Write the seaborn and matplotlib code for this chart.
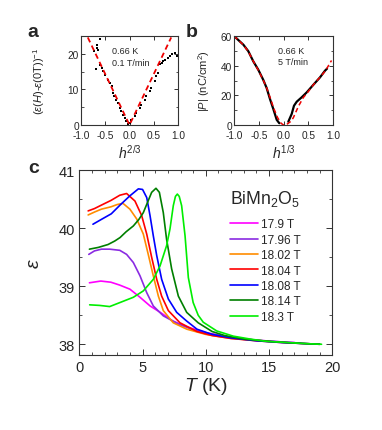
import numpy as np
import pandas as pd
import matplotlib
matplotlib.use("Agg")
import matplotlib.pyplot as plt
import seaborn as sns

# ---------------- data ----------------
# panel a: scattered data (h^{2/3}, (eps(H)-eps(0T))^-1) and dashed fit
a_x = [-0.73, -0.68, -0.66, -0.65, -0.615, -0.70, -0.615, -0.57, -0.55, -0.51, -0.44, -0.41,
       -0.37, -0.34, -0.31, -0.27, -0.24, -0.20, -0.17, -0.13, -0.10, -0.065, -0.03,
       0.003, 0.04, 0.107, 0.14, 0.21, 0.24, 0.31, 0.35, 0.42, 0.45, 0.52, 0.55, 0.59,
       0.62, 0.66, 0.69, 0.74, 0.79, 0.83, 0.88, 0.93, 0.97]
a_y = [20.7, 22.6, 21.6, 21.2, 24.2, 15.7, 16.9, 16.0, 15.1, 14.1, 12.7, 11.8,
       10.9, 9.0, 8.1, 7.1, 6.2, 4.8, 3.8, 2.9, 2.0, 1.0, 0.4,
       0.56, 1.3, 2.4, 3.4, 4.8, 5.7, 7.1, 8.1, 9.5, 10.4, 12.3, 13.7, 14.6,
       17.0, 17.4, 17.9, 18.2, 18.8, 19.3, 20.0, 20.2, 19.3]
a_fit_x = [-0.86, 0.0, 0.86]
a_fit_y = [24.6, 0.0, 24.6]

# panel b: |P| vs h^{1/3}
b_left_x = [-1.0, -0.81, -0.71, -0.61, -0.51, -0.41, -0.34, -0.273, -0.206, -0.137, -0.085]
b_left_y = [60.0, 54.1, 49.7, 42.9, 37.3, 30.5, 24.9, 17.5, 10.8, 3.5, 1.2]
b_right_x = [0.097, 0.165, 0.212, 0.267, 0.368, 0.469, 0.60, 0.737, 0.838, 0.88]
b_right_y = [2.2, 7.4, 13.0, 15.7, 18.7, 22.0, 27.0, 32.1, 36.6, 38.0]
b_fit_x = [-1.0, -0.81, -0.71, -0.61, -0.51, -0.41, -0.34, -0.27, -0.2, -0.12, -0.05, 0.0,
           0.05, 0.15, 0.2, 0.3, 0.4, 0.5, 0.6, 0.74, 0.85, 0.97]
b_fit_y = [60.0, 54.0, 49.5, 43.0, 37.0, 30.3, 25.0, 18.5, 11.5, 5.0, 1.2, 0.0,
           0.0, 2.5, 5.0, 12.5, 18.5, 22.5, 27.0, 32.3, 36.7, 43.5]

# panel c: epsilon vs T for several fields
fields = ["17.9 T", "17.96 T", "18.02 T", "18.04 T", "18.08 T", "18.14 T", "18.3 T"]
colors = ["#ff00ff", "#8a2be2", "#ff8c00", "#ff0000", "#0000ff", "#007f00", "#00ee00"]

T_179 = [0.8, 1.7, 2.5, 3.2, 4.0, 4.8, 5.6, 6.4, 7.4, 8.5, 10.0, 12.0, 14.0, 16.0, 17.0]
E_179 = [39.06, 39.09, 39.07, 39.02, 38.95, 38.81, 38.66, 38.55, 38.40, 38.30, 38.20, 38.12, 38.07, 38.04, 38.03]

T_1796 = [0.75, 1.2, 1.75, 2.4, 3.2, 3.74, 4.27, 4.8, 5.33, 5.85, 6.64, 7.83, 9.0, 10.0, 12.0, 14.0, 16.0, 17.5]
E_1796 = [39.55, 39.61, 39.64, 39.64, 39.62, 39.55, 39.41, 39.18, 38.89, 38.66, 38.49, 38.35, 38.25, 38.19, 38.12, 38.07, 38.04, 38.02]

T_1802 = [0.7, 1.2, 1.75, 2.5, 3.0, 3.45, 4.0, 4.54, 5.06, 5.45, 5.85, 6.25, 6.64, 7.43, 8.5, 10.0, 12.0, 15.0]
E_1802 = [40.23, 40.28, 40.33, 40.37, 40.41, 40.43, 40.33, 40.16, 39.90, 39.55, 39.18, 38.83, 38.58, 38.37, 38.26, 38.17, 38.10, 38.05]

T_1804 = [0.7, 1.2, 1.75, 2.5, 3.2, 3.74, 4.4, 4.93, 5.33, 5.72, 6.12, 6.51, 7.04, 7.96, 9.3, 10.5, 12.0, 14.0, 16.0, 19.0]
E_1804 = [40.30, 40.34, 40.40, 40.48, 40.57, 40.60, 40.47, 40.22, 39.90, 39.50, 39.12, 38.83, 38.58, 38.37, 38.22, 38.15, 38.10, 38.06, 38.03, 38.0]

T_1808 = [1.08, 1.8, 2.53, 3.22, 4.0, 4.67, 5.0, 5.33, 5.59, 5.85, 6.12, 6.51, 7.04, 7.7, 8.49, 9.3, 10.5, 12.0, 14.0, 16.0, 19.0]
E_1808 = [40.07, 40.16, 40.25, 40.40, 40.56, 40.68, 40.67, 40.53, 40.22, 39.87, 39.53, 39.12, 38.78, 38.55, 38.40, 38.26, 38.17, 38.11, 38.06, 38.03, 38.0]

T_1814 = [0.8, 1.5, 2.27, 2.8, 3.22, 3.7, 4.27, 4.7, 5.06, 5.4, 5.72, 6.06, 6.33, 6.64, 6.9, 7.3, 7.83, 8.49, 9.4, 10.5, 11.5, 13.0, 15.0, 17.0, 19.0]
E_1814 = [39.64, 39.67, 39.72, 39.78, 39.84, 39.94, 40.04, 40.15, 40.27, 40.45, 40.62, 40.69, 40.62, 40.27, 39.81, 39.30, 38.83, 38.55, 38.37, 38.22, 38.15, 38.09, 38.05, 38.02, 38.0]

T_183 = [0.82, 1.6, 2.4, 3.22, 4.27, 5.06, 5.85, 6.38, 6.9, 7.17, 7.43, 7.6, 7.75, 7.9, 8.09, 8.36, 8.62, 9.0, 9.4, 9.8, 10.86, 12.17, 13.5, 14.8, 16.5, 18.0, 19.15]
E_183 = [38.68, 38.67, 38.65, 38.72, 38.81, 38.92, 39.12, 39.35, 39.70, 39.99, 40.39, 40.55, 40.59, 40.55, 40.39, 39.87, 39.15, 38.72, 38.50, 38.38, 38.23, 38.14, 38.09, 38.05, 38.03, 38.01, 38.0]

c_T = [T_179, T_1796, T_1802, T_1804, T_1808, T_1814, T_183]
c_E = [E_179, E_1796, E_1802, E_1804, E_1808, E_1814, E_183]

# ---------------- style ----------------
sns.set_style("ticks")
plt.rcParams["font.family"] = ["Liberation Sans", "DejaVu Sans"]
plt.rcParams["mathtext.fontset"] = "custom"
plt.rcParams["mathtext.rm"] = "Liberation Sans"
plt.rcParams["mathtext.it"] = "Liberation Sans:italic"
plt.rcParams["mathtext.bf"] = "Liberation Sans:bold"
plt.rcParams["axes.linewidth"] = 0.8
plt.rcParams["axes.edgecolor"] = "#333333"

fig = plt.figure(figsize=(3.82, 4.31), dpi=100)
W, H = 382.0, 431.0


def add_ax(l, r, t, b):
    return fig.add_axes([l / W, 1 - b / H, (r - l) / W, (b - t) / H])


def style_ticks(ax, size):
    ax.tick_params(which="both", direction="in", top=True, right=True,
                   labelsize=size, pad=1.5, color="#333333")
    ax.tick_params(which="major", length=3, width=0.7)
    ax.tick_params(which="minor", length=1.8, width=0.6)
    ax.tick_params(axis="x", which="major", pad=3.5)


dash = (0, (3, 2))

# ---- panel a ----
axa = add_ax(81, 178, 37, 126)
sns.scatterplot(x=a_x, y=a_y, ax=axa, color="black", marker="s", s=3, linewidth=0)
sns.lineplot(x=a_fit_x, y=a_fit_y, ax=axa, color="#ee0000", lw=1.3, sort=False,
             estimator=None, linestyle=dash)
axa.set_xlim(-1.0, 1.0)
axa.set_ylim(0, 25)
axa.set_xticks([-1.0, -0.5, 0.0, 0.5, 1.0])
axa.set_xticklabels(["-1.0", "-0.5", "0.0", "0.5", "1.0"])
axa.set_yticks([0, 10, 20])
axa.set_yticks([5, 15, 25], minor=True)
style_ticks(axa, 7.3)
axa.set_xlabel("$h^{\\mathrm{2/3}}$", fontsize=10)
axa.xaxis.set_label_coords(0.5, -0.2)
axa.set_ylabel("($\\varepsilon$($H$)-$\\varepsilon$(0T))$^{-1}$", fontsize=8)
axa.yaxis.set_label_coords(-0.35, 0.5)
axa.text(-0.37, 21.0, "0.66 K", fontsize=6.5, va="center")
axa.text(-0.37, 17.6, "0.1 T/min", fontsize=6.5, va="center")

# ---- panel b ----
axb = add_ax(234, 333, 37, 126)
sns.lineplot(x=b_left_x, y=b_left_y, ax=axb, color="black", lw=1.6, sort=False, estimator=None)
sns.lineplot(x=b_right_x, y=b_right_y, ax=axb, color="black", lw=1.6, sort=False, estimator=None)
sns.lineplot(x=b_fit_x, y=b_fit_y, ax=axb, color="#ee0000", lw=1.1, sort=False,
             estimator=None, linestyle=dash)
axb.set_xlim(-1.0, 1.0)
axb.set_ylim(0, 60)
axb.set_xticks([-1.0, -0.5, 0.0, 0.5, 1.0])
axb.set_xticklabels(["-1.0", "-0.5", "0.0", "0.5", "1.0"])
axb.set_yticks([0, 20, 40, 60])
axb.set_yticks([10, 30, 50], minor=True)
style_ticks(axb, 7.3)
axb.set_xlabel("$h^{\\mathrm{1/3}}$", fontsize=10)
axb.xaxis.set_label_coords(0.5, -0.2)
axb.set_ylabel("|$P$| (nC/cm$^2$)", fontsize=8)
axb.yaxis.set_label_coords(-0.22, 0.5)
axb.text(-0.11, 50.5, "0.66 K", fontsize=6.5, va="center")
axb.text(-0.11, 42.5, "5 T/min", fontsize=6.5, va="center")

# ---- panel c ----
axc = add_ax(79.3, 332.3, 171.3, 355.7)
for T, E, lab, col in zip(c_T, c_E, fields, colors):
    sns.lineplot(x=T, y=E, ax=axc, color=col, lw=1.2, sort=False, estimator=None, label=lab)
axc.set_xlim(0, 20)
axc.set_ylim(37.82, 41.0)
axc.set_xticks([0, 5, 10, 15, 20])
axc.set_xticks(np.arange(1, 20, 1), minor=True)
axc.set_yticks([38, 39, 40, 41])
axc.set_yticks([38.5, 39.5, 40.5], minor=True)
style_ticks(axc, 10.5)
axc.tick_params(which="major", length=4)
axc.tick_params(which="minor", length=2.4)
axc.tick_params(axis="y", which="major", pad=3)
axc.set_xlabel("$T$ (K)", fontsize=14)
axc.xaxis.set_label_coords(0.5, -0.11)
axc.set_ylabel("$\\varepsilon$", fontsize=14)
axc.yaxis.set_label_coords(-0.145, 0.5)
leg = axc.legend(title="BiMn$_2$O$_5$", frameon=False, loc="upper left",
                 bbox_to_anchor=(0.595, 0.905), fontsize=8.5, title_fontsize=12.7,
                 handlelength=2.4, handletextpad=0.2, labelspacing=0.29,
                 borderpad=0.0, borderaxespad=0.0, alignment="left")
leg._legend_box.sep = 7.5

# panel letters
fig.text(27 / W, 1 - 37 / H, "a", fontsize=14, fontweight="bold", va="baseline")
fig.text(186 / W, 1 - 37 / H, "b", fontsize=14, fontweight="bold", va="baseline")
fig.text(28 / W, 1 - 173 / H, "c", fontsize=14, fontweight="bold", va="baseline")

fig.savefig("out.png", dpi=100)
